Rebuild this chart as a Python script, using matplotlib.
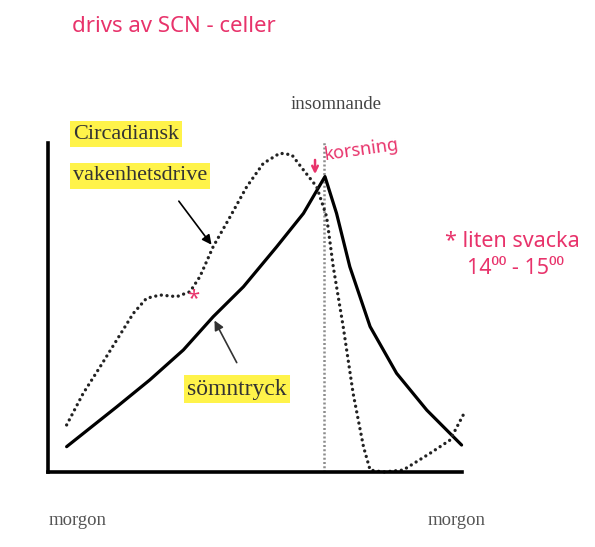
import numpy as np
import matplotlib.pyplot as plt

# x: tid från morgon till morgon (0-100), y: nivå (0-100)
somn_x = [4.5, 16.6, 24.6, 32.7, 39.9, 47.2, 55.2, 61.7, 66.9, 69.7, 72.9, 77.8, 84.2, 91.5, 99.9]
somn_y = [7.7, 19.8, 28.0, 37.1, 47.2, 56.3, 68.4, 78.6, 89.8, 78.6, 62.4, 44.2, 30.0, 18.8, 8.2]

circ_x = [4.5, 8.5, 12.6, 16.6, 20.6, 23.8, 27.1, 31.1, 34.3, 36.7, 39.9, 44.0, 48.0, 52.0,
          56.0, 58.9, 61.7, 64.9, 67.3, 68.9, 71.3, 73.7, 76.2, 77.8, 81.0, 85.8, 92.3,
          97.1, 100.7]
circ_y = [14.3, 23.9, 32.0, 40.1, 48.2, 52.8, 53.8, 53.3, 54.8, 59.4, 68.5, 77.6, 86.7, 93.8,
          96.9, 96.4, 91.8, 86.7, 77.6, 62.4, 44.2, 23.9, 7.7, 0.6, 0.0, 0.6, 5.7,
          9.7, 18.3]

korsning_x = 66.7

pink = '#e8336b'
serif = ['Liberation Serif', 'DejaVu Serif']
hand = ['Noto Sans', 'DejaVu Sans']

fig = plt.figure(figsize=(5.95, 5.47), dpi=100)
ax = fig.add_axes([48 / 595, 1 - 472 / 547, 414 / 595, 329 / 547])
ax.set_xlim(0, 100)
ax.set_ylim(0, 100)
for s in ['top', 'right']:
    ax.spines[s].set_visible(False)
for s in ['left', 'bottom']:
    ax.spines[s].set_linewidth(2.6)
ax.set_xticks([])
ax.set_yticks([])

ax.plot([korsning_x, korsning_x], [0, 100.3], color='#8c8c8c', lw=1.8,
        linestyle=(0, (0.8, 0.9)), clip_on=False)
ax.plot(somn_x, somn_y, color='black', lw=2.3, solid_capstyle='round',
        solid_joinstyle='round', clip_on=False)
ax.plot(circ_x, circ_y, color='#222222', lw=2.4, linestyle=(0, (0.01, 1.7)),
        dash_capstyle='round', clip_on=False)

# texter
hl = dict(boxstyle='square,pad=0.15', fc='#fff34a', ec='none')
ax.text(6.0, 102.7, 'Circadiansk', family=serif, fontsize=16, color='#333333',
        ha='left', va='center', bbox=hl)
ax.text(6.0, 90.0, 'vakenhetsdrive', family=serif, fontsize=16, color='#333333',
        ha='left', va='center', bbox=hl)
ax.text(33.6, 25.2, 'sömntryck', family=serif, fontsize=17, color='#333333',
        ha='left', va='center', bbox=hl)
ax.text(58.7, 111.6, 'insomnande', family=serif, fontsize=13.5, color='#444444',
        ha='left', va='center')
ax.text(7.2, -14.6, 'morgon', family=serif, fontsize=13.5, color='#555555',
        ha='center', va='center')
ax.text(98.8, -14.6, 'morgon', family=serif, fontsize=13.5, color='#555555',
        ha='center', va='center')

# pilar
ax.annotate('', xy=(39.9, 68.4), xytext=(31.2, 83.0),
            arrowprops=dict(arrowstyle='-|>', color='black', lw=1.2, mutation_scale=14))
ax.annotate('', xy=(39.9, 46.8), xytext=(45.9, 32.5),
            arrowprops=dict(arrowstyle='-|>', color='#333333', lw=1.2, mutation_scale=14))

# handskrivna anteckningar
ax.text(5.8, 135.3, 'drivs av SCN - celler', family=hand, fontsize=16, color=pink,
        fontweight='bold', ha='left', va='center')
ax.annotate('', xy=(15.0, 109.4), xytext=(15.0, 125.8),
            arrowprops=dict(arrowstyle='->', color=pink, lw=2, mutation_scale=14))
ax.text(66.4, 97.8, 'korsning', family=hand, fontsize=13, color=pink,
        fontweight='bold', ha='left', va='center', rotation=8)
ax.annotate('', xy=(64.5, 89.7), xytext=(64.5, 95.7),
            arrowprops=dict(arrowstyle='->', color=pink, lw=1.8, mutation_scale=10))
ax.annotate('', xy=(83.6, 111.6), xytext=(86.6, 76.6),
            arrowprops=dict(arrowstyle='->', color=pink, lw=2, mutation_scale=12,
                            connectionstyle='arc3,rad=0.35'))
ax.text(35.0, 52.6, '*', family=hand, fontsize=16, color=pink, fontweight='bold',
        ha='center', va='center')
ax.text(95.9, 70.2, '* liten svacka', family=hand, fontsize=15.5, color=pink,
        fontweight='bold', ha='left', va='center')
ax.text(101.2, 62.0, '14⁰⁰ - 15⁰⁰', family=hand, fontsize=15.5, color=pink,
        fontweight='bold', ha='left', va='center')

fig.savefig('out.png', dpi=100)
